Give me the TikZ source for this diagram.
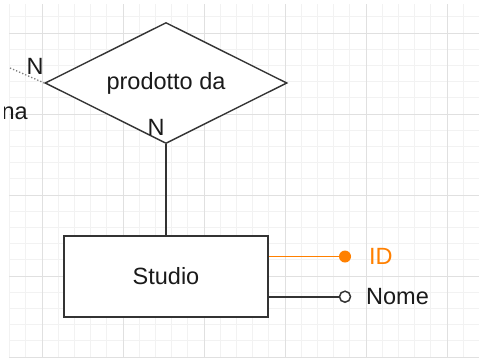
\documentclass[tikz,border=0pt]{standalone}
\usepackage{fontspec}
\setmainfont{Liberation Sans}
\usetikzlibrary{shapes.geometric}
\definecolor{gmin}{HTML}{F2F2F2}
\definecolor{gmaj}{HTML}{E0E0E0}
\definecolor{ink}{HTML}{333333}
\definecolor{txt}{HTML}{1A1A1A}
\definecolor{orng}{HTML}{FF8000}
\tikzset{
  lbl/.style={font=\fontsize{23.5}{28}\selectfont, text=txt, inner sep=0pt},
  relbox/.style={diamond, draw=ink, line width=1.4pt, fill=white, aspect=2, inner sep=0pt,
    minimum width=242pt, minimum height=121pt, lbl},
  entbox/.style={rectangle, draw=ink, line width=2pt, fill=white,
    minimum width=204pt, minimum height=81pt, lbl},
  keyattr/.style={circle, fill=orng, inner sep=0pt, minimum size=12pt},
  plainattr/.style={circle, draw=ink, line width=1.5pt, fill=white, inner sep=0pt, minimum size=11pt},
}
\begin{document}
\begin{tikzpicture}[x=1pt,y=-1pt]
\useasboundingbox (0,0) rectangle (479,360);
\fill[white] (0,0) rectangle (479,360);
% grid
\foreach \xx in {9.6,25.8,...,479} \draw[gmin,line width=1pt] (\xx,4) -- (\xx,358);
\foreach \yy in {16.8,33,...,358} \draw[gmin,line width=1pt] (9,\yy) -- (479,\yy);
\foreach \xx in {42,123,...,479} \draw[gmaj,line width=1pt] (\xx,4) -- (\xx,358);
\foreach \yy in {33,114,...,358} \draw[gmaj,line width=1pt] (9,\yy) -- (479,\yy);

% relationship
\node[relbox] (rel) at (166,83) {prodotto da};
\coordinate (far) at (10,68);
\draw[gray, line width=1.3pt, dotted] (far) -- (rel.west);
\node[lbl] (n1) at (35,66) {N};
\node[lbl] (n2) at (156,127.5) {N};
\begin{scope}
\clip (4,90) rectangle (60,140);
\node[lbl, anchor=east] (na) at (28,113.5) {na};
\end{scope}

% entity
\node[entbox] (stu) at (166,276.5) {Studio};
\draw[ink, line width=1.6pt] (rel.south) -- (stu.north);

% attributes
\node[keyattr] (idc) at (345,256.5) {};
\node[plainattr] (nmc) at (345,296.7) {};
\draw[orng, line width=1.3pt] (stu.east |- idc) -- (idc.west);
\draw[ink, line width=1.8pt] (stu.east |- nmc) -- (nmc.west);
\node[lbl, text=orng, anchor=west] (idt) at (369,256.5) {ID};
\node[lbl, anchor=west] (nmt) at (366,296.5) {Nome};
\end{tikzpicture}
\end{document}
